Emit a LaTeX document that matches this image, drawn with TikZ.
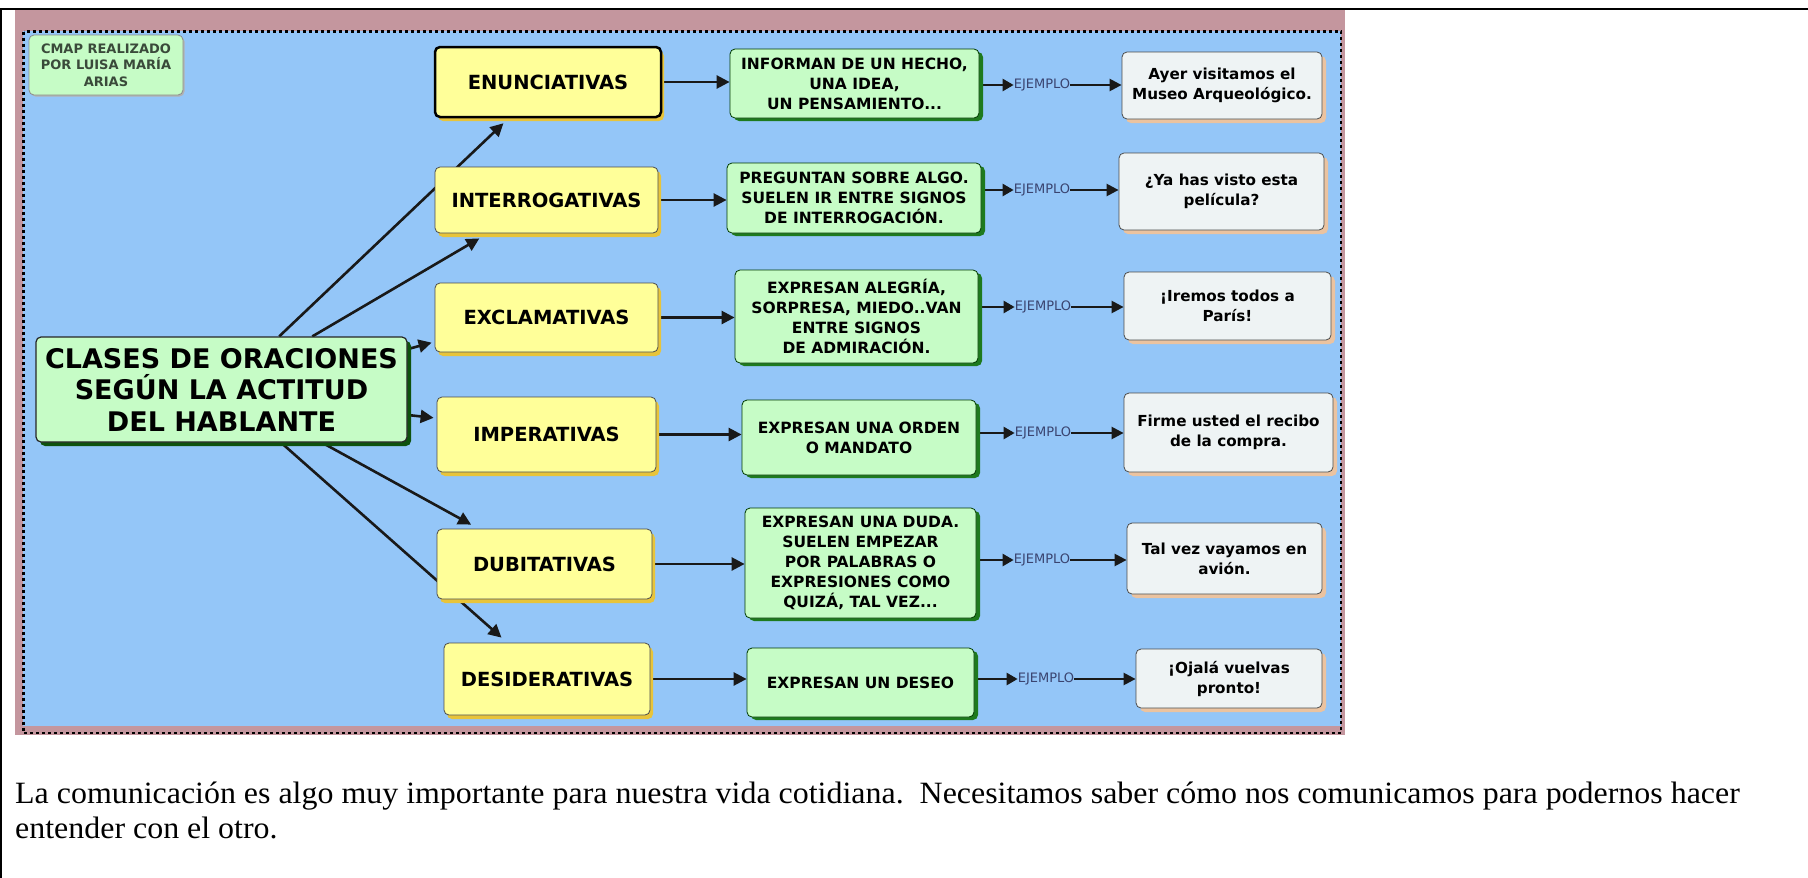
\documentclass[tikz,border=0pt]{standalone}
\usepackage{fontspec}
\newfontfamily\dv{DejaVu Sans}
\newfontfamily\tnr[FakeStretch=1.03]{Liberation Serif}
\usetikzlibrary{arrows.meta,calc,shadows}
\definecolor{pinkband}{HTML}{C4969E}
\definecolor{bluebg}{HTML}{94C6F8}
\definecolor{yfill}{HTML}{FFFF99}
\definecolor{yshadow}{HTML}{E8C43A}
\definecolor{gfill}{HTML}{C6FCC6}
\definecolor{gshadow}{HTML}{1E7A1E}
\definecolor{mshadow}{HTML}{0E520E}
\definecolor{rfill}{HTML}{EEF3F4}
\definecolor{rshadow}{HTML}{EBC3A0}
\definecolor{ejcol}{HTML}{3A4470}
\definecolor{cmaptext}{HTML}{3A4A3A}
\pgfdeclarelayer{back}
\pgfdeclarelayer{edges}
\pgfsetlayers{back,edges,main}
\tikzset{
  box/.style={rounded corners=5pt, draw=black!70, line width=0.8pt, inner sep=0pt, align=center, text=black},
  ybox/.style={box, fill=yfill, general shadow={fill=yshadow, shadow xshift=3pt, shadow yshift=-4pt},
    font=\dv\bfseries\fontsize{19.5}{23}\selectfont},
  gbox/.style={box, fill=gfill, draw=black!55!green!50!black, general shadow={fill=gshadow, shadow xshift=4pt, shadow yshift=-3pt},
    font=\dv\bfseries\fontsize{15.5}{20}\selectfont},
  rbox/.style={box, fill=rfill, general shadow={fill=rshadow, shadow xshift=4pt, shadow yshift=-4pt},
    font=\dv\bfseries\fontsize{15.2}{20}\selectfont},
  mainbox/.style={box, fill=gfill, draw=black!85, line width=1.2pt, general shadow={fill=mshadow, shadow xshift=4pt, shadow yshift=-4pt},
    font=\dv\bfseries\fontsize{27}{31.5}\selectfont},
  cmapbox/.style={box, fill=gfill, draw=black!45, general shadow={fill=black!30, shadow xshift=1.5pt, shadow yshift=-1.5pt},
    text=cmaptext, font=\dv\bfseries\fontsize{13}{16.5}\selectfont},
  conn/.style={line width=2.6pt, draw=black!90, -{Triangle[length=13pt,width=13pt]}},
  ej/.style={inner sep=0pt, font=\dv\fontsize{13}{15}\selectfont, text=ejcol},
  bodytext/.style={anchor=base west, inner sep=0pt, font=\tnr\fontsize{31}{34}\selectfont},
}
\begin{document}
\begin{tikzpicture}[x=1pt,y=-1pt]
\useasboundingbox (0,0) rectangle (1808,878);
% nodes
\node[cmapbox, minimum width=154pt, minimum height=60pt] (cmap) at (106,65) {CMAP REALIZADO\\POR LUISA MARÍA\\ARIAS};
\node[mainbox, minimum width=371pt, minimum height=105pt] (main) at (221.5,389.5) {CLASES DE ORACIONES\\SEGÚN LA ACTITUD\\DEL HABLANTE};

\node[ybox, draw=black, line width=2.5pt, minimum width=226pt, minimum height=70pt] (y1) at (548,82) {ENUNCIATIVAS};
\node[ybox, minimum width=223pt, minimum height=66pt] (y2) at (546.5,200) {INTERROGATIVAS};
\node[ybox, minimum width=223pt, minimum height=69pt] (y3) at (546.5,317.5) {EXCLAMATIVAS};
\node[ybox, minimum width=219pt, minimum height=75pt] (y4) at (546.5,434.5) {IMPERATIVAS};
\node[ybox, minimum width=215pt, minimum height=70pt] (y5) at (544.5,564) {DUBITATIVAS};
\node[ybox, minimum width=206pt, minimum height=72pt] (y6) at (547,679) {DESIDERATIVAS};

\node[gbox, minimum width=249pt, minimum height=69pt] (g1) at (854.5,83.5) {INFORMAN DE UN HECHO,\\UNA IDEA,\\UN PENSAMIENTO...};
\node[gbox, minimum width=254pt, minimum height=70pt] (g2) at (854,198) {PREGUNTAN SOBRE ALGO.\\SUELEN IR ENTRE SIGNOS\\DE INTERROGACIÓN.};
\node[gbox, minimum width=243pt, minimum height=93pt] (g3) at (856.5,316.5) {EXPRESAN ALEGRÍA,\\SORPRESA, MIEDO..VAN\\ENTRE SIGNOS\\DE ADMIRACIÓN.};
\node[gbox, minimum width=234pt, minimum height=75pt] (g4) at (859,437.5) {EXPRESAN UNA ORDEN\\O MANDATO};
\node[gbox, minimum width=231pt, minimum height=110pt] (g5) at (860.5,563) {EXPRESAN UNA DUDA.\\SUELEN EMPEZAR\\POR PALABRAS O\\EXPRESIONES COMO\\QUIZÁ, TAL VEZ...};
\node[gbox, minimum width=227pt, minimum height=69pt] (g6) at (860.5,682.5) {EXPRESAN UN DESEO};

\node[ej] (e1) at (1042,85) {EJEMPLO};
\node[ej] (e2) at (1042,190) {EJEMPLO};
\node[ej] (e3) at (1043,307) {EJEMPLO};
\node[ej] (e4) at (1043,433) {EJEMPLO};
\node[ej] (e5) at (1042,560) {EJEMPLO};
\node[ej] (e6) at (1046,679) {EJEMPLO};

\node[rbox, minimum width=200pt, minimum height=67pt] (r1) at (1222,85.5) {Ayer visitamos el\\Museo Arqueológico.};
\node[rbox, minimum width=205pt, minimum height=77pt] (r2) at (1221.5,191.5) {¿Ya has visto esta\\película?};
\node[rbox, minimum width=207pt, minimum height=68pt] (r3) at (1227.5,306) {¡Iremos todos a\\París!};
\node[rbox, minimum width=209pt, minimum height=79pt] (r4) at (1228.5,432.5) {Firme usted el recibo\\de la compra.};
\node[rbox, minimum width=195pt, minimum height=71pt] (r5) at (1224.5,558.5) {Tal vez vayamos en\\avión.};
\node[rbox, minimum width=186pt, minimum height=59pt] (r6) at (1229,678.5) {¡Ojalá vuelvas\\pronto!};

\node[bodytext] (t1) at (15,803) {La comunicación es algo muy importante para nuestra vida cotidiana.\ \ Necesitamos saber cómo nos comunicamos para podernos hacer};
\node[bodytext] (t2) at (15,838) {entender con el otro.};

% background
\begin{pgfonlayer}{back}
  \fill[white] (0,0) rectangle (1808,878);
  \fill[pinkband] (15,10) rectangle (1345,735);
  \fill[bluebg] (23,31) rectangle (1341,726);
  \draw[line width=2.6pt, dash pattern=on 3pt off 3pt] (23.5,31.5) rectangle (1341,733);
  \draw[line width=2pt] (0,9) -- (1808,9);
  \draw[line width=2pt] (1,9) -- (1,878);
\end{pgfonlayer}

% connectors
\begin{pgfonlayer}{edges}
  \draw[conn] ($(main.north west)!0.655!(main.north east)$) -- ($(y1.south west)!0.305!(y1.south east)+(0,5)$);
  \draw[conn] ($(main.north west)!0.744!(main.north east)$) -- ($(y2.south west)!0.2!(y2.south east)+(0,5)$);
  \draw[conn] ($(main.north east)!0.12!(main.south east)$) -- ($(y3.north west)!0.86!(y3.south west)+(-3,0)$);
  \draw[conn] ($(main.north east)!0.74!(main.south east)$) -- ($(y4.north west)!0.28!(y4.south west)+(-3,0)$);
  \draw[conn] ($(main.south west)!0.77!(main.south east)$) -- ($(y5.north west)!0.16!(y5.north east)+(0,-4)$);
  \draw[conn] ($(main.south west)!0.66!(main.south east)$) -- ($(y6.north west)!0.28!(y6.north east)+(0,-5)$);
  \foreach \i in {1,...,6}{
    \draw[conn] (y\i.east) -- (g\i.west |- y\i.east);
    \draw[conn, line width=2.4pt, -{Triangle[length=11pt,width=12pt]}] (g\i.east |- e\i.west) -- (e\i.west);
    \draw[conn, line width=2.4pt, -{Triangle[length=12pt,width=12pt]}] (e\i.east) -- (r\i.west |- e\i.east);
  }
\end{pgfonlayer}
\end{tikzpicture}
\end{document}
